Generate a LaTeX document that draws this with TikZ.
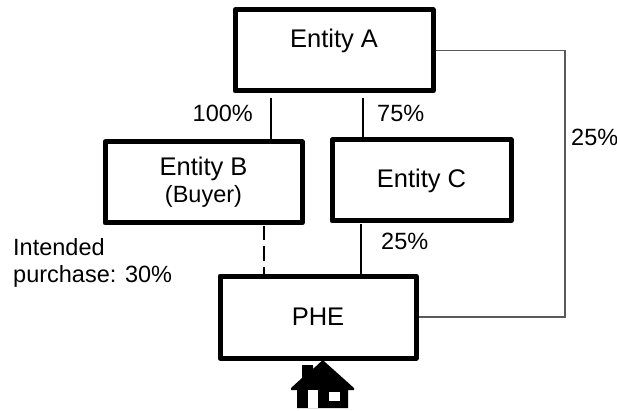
\documentclass[tikz,border=0pt]{standalone}
\usepackage{fontspec}
\setmainfont{Liberation Sans}
\tikzstyle{entity}=[draw, line width=5pt, line join=round, font=\fontsize{25.5}{28}\selectfont, align=center, inner sep=0pt]
\tikzstyle{share}=[anchor=base west, inner sep=0pt, align=left, font=\fontsize{23.5}{27}\selectfont]
\tikzstyle{link}=[line width=1.3pt]

\begin{document}
\begin{tikzpicture}[x=1pt, y=-1pt]
\useasboundingbox (0,0) rectangle (617,411);
% Entities
    \node[entity, minimum width=198pt, minimum height=81pt, text depth=23.6pt] (entA) at (334,50.5) {Entity A};
    \node[entity, minimum width=197pt, minimum height=81pt] (entB) at (203.5,182.5) {Entity B\\[-1pt]{\fontsize{23.5}{27}\selectfont (Buyer)}};
    \node[entity, minimum width=179pt, minimum height=81pt] (entC) at (421.5,180.5) {Entity C};
    \node[entity, minimum width=196pt, minimum height=82pt] (phe) at (318,317) {PHE};
% Free ends of the links
    \coordinate (abtop) at (271,98);
    \coordinate (actop) at (363,98);
    \coordinate (bptop) at (264,226);
    \coordinate (cptop) at (361,224);
    \coordinate (outer) at (565,0);
% Links
    \draw[link] (abtop) -- (abtop |- entB.north);
    \draw[link] (actop) -- (actop |- entC.north);
    \draw[link, dash pattern=on 15pt off 6pt, dash phase=1pt] (bptop) -- (bptop |- phe.north);
    \draw[link] (cptop) -- (cptop |- phe.north);
    \draw[line width=1.2pt, black!65] (entA.east) -- (entA.east -| outer) -- (outer |- phe.east) -- (phe.east);
% Shares
    \node[share] (l100) at (192.5,122) {100\%};
    \node[share] (l75) at (377,122) {75\%};
    \node[share] (l25c) at (381,250) {25\%};
    \node[share] (l25a) at (571,146) {25\%};
    \node[share] (lint) at (13,282) {Intended\\purchase: 30\%};
% House
    \fill (322.7,360) -- (354,388) -- (354,390) -- (348,390) -- (348,408) -- (297,408) -- (297,390) -- (291,390) -- (291,388) -- (302,378) -- (302,365) -- (313,365) -- (313,369) -- cycle;
    \fill[white] (308,390) rectangle (318,408);
    \fill[white] (329,392) rectangle (340,400.5);
\end{tikzpicture}
\end{document}
